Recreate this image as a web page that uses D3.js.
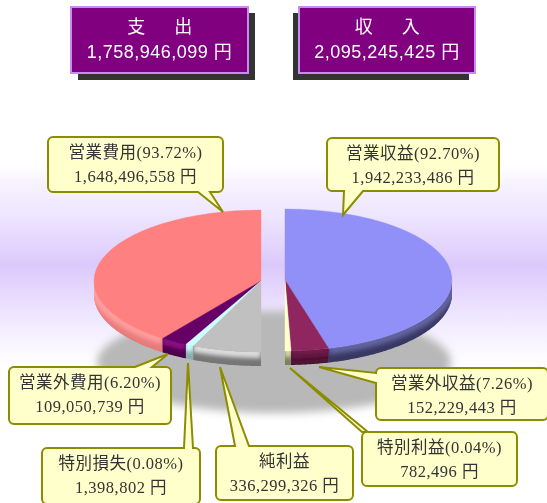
<!DOCTYPE html>
<html>
<head>
<meta charset="utf-8">
<script src="https://cdn.jsdelivr.net/npm/d3@7"></script>
<style>
    html, body { margin: 0; padding: 0; background: #fff; overflow: hidden; }
    svg { display: block; }
</style>
</head>
<body>
<svg id="chart" width="547" height="503"></svg>
<script>
// Data
const expenseNames = ["営業費用", "営業外費用", "特別損失", "純利益"];
const expenseValues = [1648496558, 109050739, 1398802, 336299326];
const expensePercents = ["93.72", "6.20", "0.08", null];

const incomeNames = ["営業収益", "営業外収益", "特別利益"];
const incomeValues = [1942233486, 152229443, 782496];
const incomePercents = ["92.70", "7.26", "0.04"];

const totalTitles = ["支　出", "収　入"];
const totalValues = [1758946099, 2095245425];

// Styles
const expenseColors = ["#ff8080", "#660066", "#ccffff", "#c0c0c0"];
const expenseRimTop = ["#ff9c9c", "#8c0c84", "#d8ffff", "#dcdcdc"];
const expenseRimBottom = ["#e87a7a", "#4c044c", "#88b0b0", "#767676"];
const incomeColors = ["#9090f8", "#902860", "#ffffcc"];
const incomeRimTop = ["#62649e", "#6e1c4a", "#e4e4b4"];
const incomeRimBottom = ["#383864", "#4e1232", "#808060"];

const bgStops = [
    [0, "#ffffff"], [0.08, "#f8f4ff"], [0.26, "#ede4fe"], [0.49, "#dcc9fc"],
    [0.75, "#f0e8fe"], [0.91, "#fbf9ff"], [1, "#ffffff"]
];

const svg = d3.select("#chart");
const defs = svg.append("defs");
const fmt = d3.format(",");

// Background band
const bg = defs.append("linearGradient")
    .attr("id", "bg-band")
    .attr("x1", 0).attr("y1", 0).attr("x2", 0).attr("y2", 1);
bgStops.forEach(function (s) {
    bg.append("stop").attr("offset", s[0]).attr("stop-color", s[1]);
});
svg.append("rect")
    .attr("x", 0).attr("y", 165)
    .attr("width", 547).attr("height", 205)
    .attr("fill", "url(#bg-band)");

function blurFilter(id, amount) {
    defs.append("filter").attr("id", id)
        .attr("filterUnits", "userSpaceOnUse")
        .attr("x", 0).attr("y", 0).attr("width", 547).attr("height", 503)
        .append("feGaussianBlur").attr("stdDeviation", amount);
}
blurFilter("soft-shadow", 4);
blurFilter("soft-pie", 0.6);
blurFilter("soft-rim", 2);

// Shadow under the pie
svg.append("ellipse")
    .attr("cx", 274).attr("cy", 362)
    .attr("rx", 177).attr("ry", 51)
    .attr("fill", "#b8b8b8")
    .attr("filter", "url(#soft-shadow)");

// Two half pies, both starting from 12 o'clock
const rx = 167, ry = 71, depth = 14;
const minSweep = 0.05; // thin slices stay visible
const pieGroup = svg.append("g").attr("filter", "url(#soft-pie)");
let rimCount = 0;

function drawHalf(values, colors, rimTop, rimBottom, cx, cy, sign, turn) {
    const arcs = d3.pie().sort(null)
        .startAngle(sign * turn)
        .endAngle(sign * (Math.PI + turn))(values);

    // the cut faces stay vertical, thin slices get a minimum width
    arcs[0].startAngle = 0;
    arcs.forEach(function (d, i) {
        if (i > 0) d.startAngle = arcs[i - 1].endAngle;
        if (Math.abs(d.endAngle - d.startAngle) < minSweep) d.endAngle = d.startAngle + sign * minSweep;
    });
    const last = arcs[arcs.length - 1];
    last.endAngle = sign * Math.PI;
    if (Math.abs(last.startAngle) > Math.PI) last.startAngle = sign * Math.PI;

    const arc = d3.arc().innerRadius(0).outerRadius(rx);
    const line = d3.line();

    // side wall: dark base with a blurred light line along its upper edge
    arcs.forEach(function (d, i) {
        const from = Math.max(Math.abs(d.startAngle), Math.PI / 2);
        const to = Math.abs(d.endAngle);
        if (to <= from) return;
        const steps = d3.range(from, to, 0.01).concat([to]);
        const edge = steps.map(a => [cx + sign * rx * Math.sin(a), cy - ry * Math.cos(a)]);
        const wall = line(edge.concat(edge.slice().reverse().map(p => [p[0], p[1] + depth]))) + "Z";
        const clipId = "rim-" + (rimCount++);
        defs.append("clipPath").attr("id", clipId).append("path").attr("d", wall);
        const rim = pieGroup.append("g").attr("clip-path", `url(#${clipId})`);
        rim.append("path")
            .attr("d", wall)
            .attr("fill", rimBottom[i])
            .attr("stroke", rimBottom[i]);
        rim.append("path")
            .attr("d", line(edge))
            .attr("fill", "none")
            .attr("stroke", rimTop[i])
            .attr("stroke-width", 12)
            .attr("filter", "url(#soft-rim)");
    });

    // top face
    pieGroup.append("g")
        .attr("transform", `translate(${cx},${cy}) scale(1,${ry / rx})`)
        .selectAll("path")
        .data(arcs)
        .enter().append("path")
        .attr("d", arc)
        .attr("fill", (d, i) => colors[i])
        .attr("stroke", (d, i) => colors[i])
        .attr("stroke-width", 0.4)
        .attr("vector-effect", "non-scaling-stroke");
}

drawHalf(expenseValues, expenseColors, expenseRimTop, expenseRimBottom, 261, 281, -1, 0.04);
drawHalf(incomeValues, incomeColors, incomeRimTop, incomeRimBottom, 285, 280, 1, -0.035);

// Total boxes
const totalBoxes = [
    {x: 71, y: 7, w: 177, h: 66, sx: 7},
    {x: 299, y: 7, w: 176, h: 66, sx: -6}
];
totalBoxes.forEach(function (b, i) {
    svg.append("rect")
        .attr("x", b.x + b.sx).attr("y", b.y + 6)
        .attr("width", b.w).attr("height", b.h + 1)
        .attr("fill", "#333333");
    svg.append("rect")
        .attr("x", b.x).attr("y", b.y)
        .attr("width", b.w).attr("height", b.h)
        .attr("fill", "#800080")
        .attr("stroke", "#c48cf4")
        .attr("stroke-width", 2);
    svg.append("text")
        .attr("x", b.x + b.w / 2 + 3).attr("y", b.y + 26)
        .attr("text-anchor", "middle")
        .attr("fill", "#fff")
        .attr("font-family", "'Noto Sans CJK JP'")
        .attr("font-size", 18)
        .attr("letter-spacing", 5.5)
        .text(totalTitles[i]);
    svg.append("text")
        .attr("x", b.x + b.w / 2).attr("y", b.y + 51)
        .attr("text-anchor", "middle")
        .attr("fill", "#fff")
        .attr("font-family", "'Liberation Sans','Noto Sans CJK JP'")
        .attr("font-size", 18)
        .attr("letter-spacing", 0.5)
        .text(fmt(totalValues[i]) + " 円");
});

// Callouts: box, then pointer tip and the two pointer base points on the box edge
function calloutPath(c) {
    const r = 5, x0 = c.x, y0 = c.y, x1 = c.x + c.w, y1 = c.y + c.h;
    const p = d3.path();
    p.moveTo(x0 + r, y0);
    if (c.side === "top") { p.lineTo(c.b0, y0); p.lineTo(c.tip[0], c.tip[1]); p.lineTo(c.b1, y0); }
    p.lineTo(x1 - r, y0);
    p.arcTo(x1, y0, x1, y0 + r, r);
    p.lineTo(x1, y1 - r);
    p.arcTo(x1, y1, x1 - r, y1, r);
    if (c.side === "bottom") { p.lineTo(c.b1, y1); p.lineTo(c.tip[0], c.tip[1]); p.lineTo(c.b0, y1); }
    p.lineTo(x0 + r, y1);
    p.arcTo(x0, y1, x0, y1 - r, r);
    if (c.side === "left") { p.lineTo(x0, c.b1); p.lineTo(c.tip[0], c.tip[1]); p.lineTo(x0, c.b0); }
    p.lineTo(x0, y0 + r);
    p.arcTo(x0, y0, x0 + r, y0, r);
    p.closePath();
    return p.toString();
}

const expenseCallouts = [
    {x: 48, y: 137, w: 175, h: 55, side: "bottom", b0: 198, b1: 210, tip: [223, 212]},
    {x: 9, y: 367, w: 162, h: 57, side: "top", b0: 135, b1: 152, tip: [168, 354]},
    {x: 42, y: 448, w: 158, h: 56, side: "top", b0: 184, b1: 193, tip: [188, 363]},
    {x: 216, y: 446, w: 137, h: 54, side: "top", b0: 235, b1: 249, tip: [220, 367]}
];
const incomeCallouts = [
    {x: 327, y: 138, w: 172, h: 53, side: "bottom", b0: 344, b1: 363, tip: [343, 215]},
    {x: 376, y: 368, w: 172, h: 52, side: "left", b0: 373, b1: 383, tip: [319, 367]},
    {x: 362, y: 432, w: 155, h: 54, side: "top", b0: 362, b1: 368, tip: [290, 368]}
];

function drawCallouts(layout, names, values, percents) {
    layout.forEach(function (c, i) {
        svg.append("path")
            .attr("d", calloutPath(c))
            .attr("fill", "#ffffcc")
            .attr("stroke", "#8c8c00")
            .attr("stroke-width", 2);
        const lines = [
            percents[i] ? `${names[i]}(${percents[i]}%)` : names[i],
            fmt(values[i]) + " 円"
        ];
        svg.append("g").selectAll("text")
            .data(lines)
            .enter().append("text")
            .attr("x", c.x + c.w / 2)
            .attr("y", (d, k) => c.y + 21 + k * 24)
            .attr("text-anchor", "middle")
            .attr("fill", "#333333")
            .attr("font-family", "'Liberation Serif','Noto Sans CJK JP'")
            .attr("font-size", 16.5)
            .attr("letter-spacing", 0.5)
            .text(d => d);
    });
}

drawCallouts(expenseCallouts, expenseNames, expenseValues, expensePercents);
drawCallouts(incomeCallouts, incomeNames, incomeValues, incomePercents);
</script>
</body>
</html>
